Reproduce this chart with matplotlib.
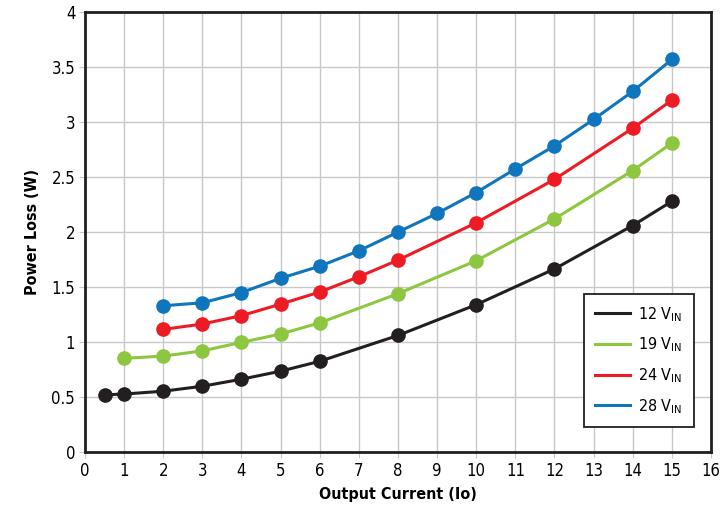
import numpy as np
import matplotlib.pyplot as plt

plt.rcParams['font.family'] = ['DejaVu Sans']
plt.rcParams['font.stretch'] = 'condensed'

x12 = [0.5, 1, 2, 3, 4, 5, 6, 8, 10, 12, 14, 15]
y12 = [0.52, 0.527, 0.553, 0.598, 0.662, 0.735, 0.825, 1.06, 1.34, 1.665, 2.06, 2.28]

x19 = [1, 2, 3, 4, 5, 6, 8, 10, 12, 14, 15]
y19 = [0.852, 0.872, 0.92, 0.997, 1.073, 1.175, 1.44, 1.74, 2.12, 2.56, 2.81]

x24 = [2, 3, 4, 5, 6, 7, 8, 10, 12, 14, 15]
y24 = [1.115, 1.164, 1.24, 1.345, 1.455, 1.594, 1.745, 2.085, 2.48, 2.945, 3.2]

x28 = [2, 3, 4, 5, 6, 7, 8, 9, 10, 11, 12, 13, 14, 15]
y28 = [1.33, 1.357, 1.45, 1.58, 1.69, 1.83, 2.0, 2.17, 2.36, 2.575, 2.785, 3.025, 3.28, 3.57]

series = [
    (x12, y12, '#231f20', '12 V$_{\\mathregular{IN}}$'),
    (x19, y19, '#8dc63f', '19 V$_{\\mathregular{IN}}$'),
    (x24, y24, '#ed1c24', '24 V$_{\\mathregular{IN}}$'),
    (x28, y28, '#0f75bc', '28 V$_{\\mathregular{IN}}$'),
]

fig = plt.figure(figsize=(7.2, 5.09), dpi=100)
ax = fig.add_axes([0.118, 0.112, 0.8695, 0.864])

for xs, ys, c, lab in series:
    ax.plot(xs, ys, color=c, lw=2.2, label=lab)
    ax.plot(xs, ys, 'o', color=c, ms=9.5, label='_nolegend_')

ax.set_xlim(0, 16)
ax.set_ylim(0, 4)
ax.set_xticks(np.arange(0, 17, 1))
ax.set_yticks(np.arange(0, 4.01, 0.5))
ax.set_yticklabels(['0', '0.5', '1', '1.5', '2', '2.5', '3', '3.5', '4'])
ax.grid(True, color='#c8c8c8', lw=1)
ax.set_axisbelow(True)
for s in ax.spines.values():
    s.set_linewidth(2)
    s.set_color('#231f20')
ax.tick_params(length=4, color='#c8c8c8', labelsize=12, pad=3)

ax.set_xlabel('Output Current (Io)', fontsize=11.5, fontweight='bold', labelpad=5)
ax.set_ylabel('Power Loss (W)', fontsize=11.5, fontweight='bold', labelpad=8)

leg = ax.legend(loc='lower left', bbox_to_anchor=(0.797, 0.057), fontsize=11.5,
                fancybox=False, edgecolor='#231f20', framealpha=1,
                handlelength=2.2, handletextpad=0.5, labelspacing=0.75,
                borderpad=0.7, borderaxespad=0)
leg.get_frame().set_linewidth(1.3)

fig.savefig('out.png', dpi=100)
